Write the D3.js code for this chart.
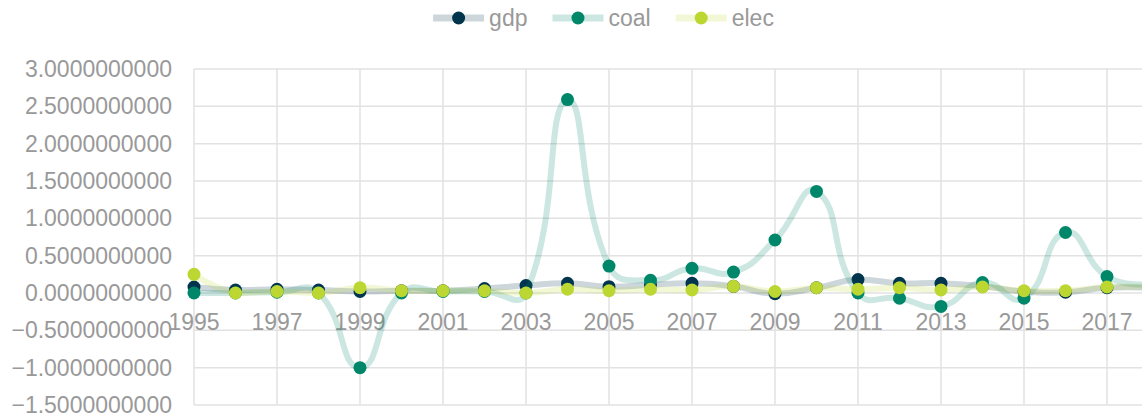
<!DOCTYPE html>
<html>
<head>
<meta charset="utf-8">
<script src="https://cdn.jsdelivr.net/npm/d3@7"></script>
<style>
  html, body { margin: 0; padding: 0; background: #fff; overflow: hidden; }
  svg { display: block; font-family: "Liberation Sans", Arial, sans-serif; }
</style>
</head>
<body>
<svg id="chart" width="1207" height="417"></svg>
<script>
// chart data
const years = d3.range(1995, 2019);
const gdp  = [0.08, 0.04, 0.05, 0.04, 0.02, 0.03, 0.03, 0.06, 0.10, 0.13, 0.085, 0.11, 0.13, 0.09, -0.01, 0.07, 0.18, 0.13, 0.13, 0.09, 0.02, 0.01, 0.07, 0.07];
const coal = [0.0, 0.0, 0.01, 0.0, -1.0, 0.0, 0.02, 0.02, 0.0, 2.59, 0.36, 0.17, 0.33, 0.28, 0.71, 1.36, 0.0, -0.07, -0.18, 0.14, -0.07, 0.81, 0.22, 0.12];
const elec = [0.25, 0.0, 0.02, 0.0, 0.07, 0.03, 0.03, 0.03, 0.0, 0.05, 0.03, 0.05, 0.04, 0.09, 0.02, 0.07, 0.05, 0.07, 0.04, 0.08, 0.03, 0.03, 0.08, 0.08];
const yTicks = [-1.5, -1.0, -0.5, 0, 0.5, 1.0, 1.5, 2.0, 2.5, 3.0];
const xLabels = years.filter((y, i) => i % 2 === 0);

const series = [
  { name: "gdp",  values: gdp,  color: "#01344d" },
  { name: "coal", values: coal, color: "#00876a" },
  { name: "elec", values: elec, color: "#bcd632" }
];

//layout
const chart = {};
chart.svg = d3.select("#chart");
chart.width = 1207;
chart.left = 194;
chart.right = 1148.5;
chart.top = 69;
chart.bottom = 405;
chart.fontSize = 23;
chart.textColor = "#999";
chart.gridColor = "#e2e2e2";

chart.x = d3.scalePoint().domain(years).range([chart.left, chart.right]);
chart.y = d3.scaleLinear().domain([-1.5, 3]).range([chart.bottom, chart.top]);

//smoothing like the echarts line (bezier with bbox constraint)
function curveSmooth(context) {
  let pts;
  const smooth = 0.5;
  return {
    areaStart() {}, areaEnd() {},
    lineStart() { pts = []; },
    point(x, y) { pts.push([+x, +y]); },
    lineEnd() {
      if (!pts.length) return;
      const minX = d3.min(pts, p => p[0]), maxX = d3.max(pts, p => p[0]);
      const minY = d3.min(pts, p => p[1]), maxY = d3.max(pts, p => p[1]);
      const clamp = c => [Math.max(minX, Math.min(maxX, c[0])), Math.max(minY, Math.min(maxY, c[1]))];
      const dist = (a, b) => Math.hypot(a[0] - b[0], a[1] - b[1]);
      context.moveTo(pts[0][0], pts[0][1]);
      let cp0 = pts[0].slice();
      for (let i = 1; i < pts.length; i++) {
        const p = pts[i], prev = pts[i - 1], next = pts[i + 1];
        let cp1, ratio = 0.5, v = [0, 0];
        if (!next) {
          cp1 = p.slice();
        } else {
          v = [next[0] - prev[0], next[1] - prev[1]];
          const lp = dist(p, prev), ln = dist(p, next);
          ratio = ln / (ln + lp);
          cp1 = [p[0] - v[0] * smooth * (1 - ratio), p[1] - v[1] * smooth * (1 - ratio)];
        }
        cp0 = clamp(cp0);
        cp1 = clamp(cp1);
        context.bezierCurveTo(cp0[0], cp0[1], cp1[0], cp1[1], p[0], p[1]);
        cp0 = [p[0] + v[0] * smooth * ratio, p[1] + v[1] * smooth * ratio];
      }
    }
  };
}

//grid lines
const grid = chart.svg.append("g").attr("stroke", chart.gridColor).attr("stroke-width", 1.5);
grid.selectAll(".hg").data(yTicks).join("line")
  .attr("x1", chart.left).attr("x2", chart.right)
  .attr("y1", d => chart.y(d)).attr("y2", d => chart.y(d));
grid.selectAll(".vg").data(xLabels).join("line")
  .attr("x1", d => chart.x(d)).attr("x2", d => chart.x(d))
  .attr("y1", chart.top).attr("y2", chart.bottom);

//y axis labels
chart.svg.append("g")
  .attr("font-size", chart.fontSize).attr("fill", chart.textColor).attr("text-anchor", "end")
  .selectAll("text").data(yTicks).join("text")
  .attr("x", chart.left - 22)
  .attr("y", d => chart.y(d))
  .attr("dy", "0.35em")
  .text(d => d3.format(".10f")(d));

//x axis labels sit under the zero line
chart.svg.append("g")
  .attr("font-size", chart.fontSize).attr("fill", chart.textColor).attr("text-anchor", "middle")
  .selectAll("text").data(xLabels).join("text")
  .attr("x", d => chart.x(d))
  .attr("y", chart.y(0) + 37)
  .text(d => d);

//series
const line = d3.line()
  .x((d, i) => chart.x(years[i]))
  .y(d => chart.y(d))
  .curve(curveSmooth);

series.forEach(s => {
  const g = chart.svg.append("g");
  g.append("path")
    .attr("d", line(s.values))
    .attr("fill", "none")
    .attr("stroke", s.color)
    .attr("stroke-opacity", 0.2)
    .attr("stroke-width", 6)
    .attr("stroke-linejoin", "round");
  g.selectAll("circle").data(s.values).join("circle")
    .attr("cx", (d, i) => chart.x(years[i]))
    .attr("cy", d => chart.y(d))
    .attr("r", 6.5)
    .attr("fill", s.color);
});

//legend centred on the chart
const legend = chart.svg.append("g");
const iconW = 51, textGap = 5, itemGap = 25;
let lx = 0;
series.forEach(s => {
  const item = legend.append("g").attr("transform", "translate(" + lx + ",0)");
  item.append("line")
    .attr("x1", 0).attr("x2", iconW).attr("y1", 18).attr("y2", 18)
    .attr("stroke", s.color).attr("stroke-opacity", 0.2).attr("stroke-width", 7);
  item.append("circle").attr("cx", iconW / 2).attr("cy", 18).attr("r", 6.5).attr("fill", s.color);
  const t = item.append("text")
    .attr("x", iconW + textGap).attr("y", 18).attr("dy", "0.35em")
    .attr("font-size", chart.fontSize).attr("fill", chart.textColor)
    .text(s.name);
  lx += iconW + textGap + t.node().getComputedTextLength() + itemGap;
});
lx -= itemGap;
legend.attr("transform", "translate(" + (chart.width / 2 - lx / 2) + ",0)");
</script>
</body>
</html>
